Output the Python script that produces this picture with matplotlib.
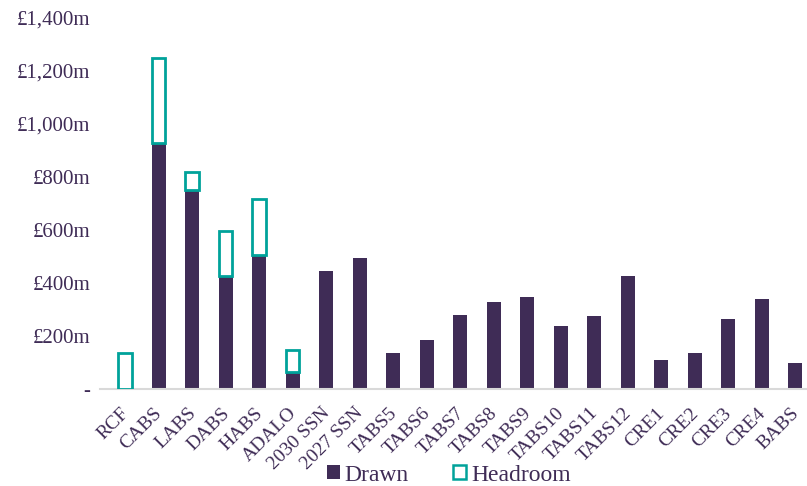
import numpy as np
import matplotlib
matplotlib.use('Agg')
import matplotlib.pyplot as plt
import matplotlib.transforms as mtransforms
from matplotlib.patches import Patch
from matplotlib.ticker import FuncFormatter

# == DATA ==
facilities = ['RCF', 'CABS', 'LABS', 'DABS', 'HABS', 'ADALO', '2030 SSN', '2027 SSN',
              'TABS5', 'TABS6', 'TABS7', 'TABS8', 'TABS9', 'TABS10', 'TABS11', 'TABS12',
              'CRE1', 'CRE2', 'CRE3', 'CRE4', 'BABS']
drawn = [0, 930, 752, 425, 504, 64, 446, 496,
         135, 184, 278, 327, 346, 238, 276, 425,
         108, 136, 266, 341, 97]
headroom = [135, 320, 68, 173, 214, 83, 0, 0,
            0, 0, 0, 0, 0, 0, 0, 0,
            0, 0, 0, 0, 0]

purple = '#3F2C56'
teal = '#00A29A'

plt.rcParams['font.family'] = ['Liberation Serif', 'DejaVu Serif']

fig = plt.figure(figsize=(8.07, 4.86), dpi=100)
ax = fig.add_axes([100/807, 97/486, 707/807, 371/486])

x = np.arange(len(facilities))
w = 0.42
ax.bar(x, drawn, width=w, color=purple, edgecolor='none', zorder=2)
hx = [i for i in x if headroom[i] > 0]
ax.bar(hx, [headroom[i] for i in hx], bottom=[drawn[i] for i in hx], width=w - 0.02,
       facecolor='white', edgecolor=teal, linewidth=2, zorder=3)

ax.set_xlim(-0.75, 20.35)
ax.set_ylim(0, 1400)
ax.set_yticks(np.arange(0, 1401, 200))
ax.yaxis.set_major_formatter(FuncFormatter(lambda v, p: '-' if v == 0 else '£{:,.0f}m'.format(v)))

for s in ['top', 'right', 'left']:
    ax.spines[s].set_visible(False)
ax.spines['bottom'].set_color('#D9D9D9')
ax.spines['bottom'].set_linewidth(1.5)
ax.tick_params(axis='both', length=0, colors=purple, labelsize=15)
ax.tick_params(axis='y', pad=7)
ax.tick_params(axis='x', pad=4)

ax.set_xticks(x)
ax.set_xticklabels(facilities, rotation=45, ha='right', rotation_mode='anchor', fontsize=14)
# nudge rotated labels left/down like the original
offset = mtransforms.ScaledTranslation(-5/100, -10/100, fig.dpi_scale_trans)
for lab in ax.get_xticklabels():
    lab.set_transform(lab.get_transform() + offset)

handles = [Patch(facecolor=purple, edgecolor='none', label='Drawn'),
           Patch(facecolor='white', edgecolor=teal, linewidth=1.8, label='Headroom')]
leg = fig.legend(handles=handles, loc='center', bbox_to_anchor=(0.556, 11/486), ncol=2,
                 frameon=False, fontsize=17, handlelength=0.55, handleheight=0.55,
                 handletextpad=0.2, columnspacing=1.9, borderpad=0)
for t in leg.get_texts():
    t.set_color(purple)

fig.savefig('out.png', dpi=100)
